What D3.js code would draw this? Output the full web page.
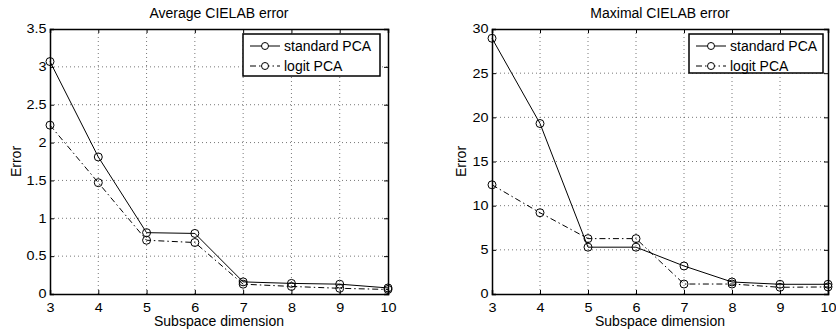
<!DOCTYPE html>
<html>
<head>
<meta charset="utf-8">
<script src="https://cdn.jsdelivr.net/npm/d3@7"></script>
<style>
  body { margin: 0; background: #fff; }
  svg { display: block; font-family: "Liberation Sans", Arial, Helvetica, sans-serif; }
</style>
</head>
<body>
<svg id="chart" width="836" height="332"></svg>
<script>
// Subspace dimensions on the x axis
const dims = [3, 4, 5, 6, 7, 8, 9, 10];

// Average CIELAB error
const avgStandard = [3.07, 1.81, 0.81, 0.80, 0.16, 0.14, 0.13, 0.08];
const avgLogit    = [2.23, 1.47, 0.71, 0.68, 0.13, 0.10, 0.075, 0.06];
const avgTicks    = [0, 0.5, 1, 1.5, 2, 2.5, 3, 3.5];

// Maximal CIELAB error
const maxStandard = [28.95, 19.3, 5.3, 5.3, 3.17, 1.36, 1.1, 1.1];
const maxLogit    = [12.36, 9.2, 6.27, 6.27, 1.13, 1.13, 0.76, 0.8];
const maxTicks    = [0, 5, 10, 15, 20, 25, 30];

const seriesNames = ["standard PCA", "logit PCA"];

const FONT = "'Liberation Sans', Arial, Helvetica, sans-serif";
const svg = d3.select("#chart");

function panel(opt) {
  const { left, right, top, bottom, title, std, logit, yMax, yTicks, legend } = opt;
  const x = d3.scaleLinear().domain([3, 10]).range([left, right]);
  const y = d3.scaleLinear().domain([0, yMax]).range([bottom, top]);
  const g = svg.append("g");

  // dotted grid
  g.append("g").selectAll("line").data(dims.slice(1, -1)).join("line")
    .attr("x1", d => x(d)).attr("x2", d => x(d))
    .attr("y1", top).attr("y2", bottom)
    .attr("stroke", "#555").attr("stroke-width", 0.8).attr("stroke-dasharray", "1,3");
  g.append("g").selectAll("line").data(yTicks.slice(1, -1)).join("line")
    .attr("x1", left).attr("x2", right)
    .attr("y1", d => y(d)).attr("y2", d => y(d))
    .attr("stroke", "#555").attr("stroke-width", 0.8).attr("stroke-dasharray", "1,3");

  // axes with inward ticks; tick numerals are drawn slightly wide
  const xAxis = d3.axisBottom(x).tickValues(dims).tickSize(-4).tickPadding(9).tickFormat(d3.format("d"));
  const yAxis = d3.axisLeft(y).tickValues(yTicks).tickSize(-4).tickPadding(3).tickFormat(d => d3.format("")(d));
  const xg = g.append("g").attr("transform", `translate(0,${bottom})`).call(xAxis);
  const yg = g.append("g").attr("transform", `translate(${left},0)`).call(yAxis);
  const xt = g.append("g").attr("transform", `translate(0,${top})`).call(d3.axisTop(x).tickValues(dims).tickSize(-4).tickFormat(""));
  const yr = g.append("g").attr("transform", `translate(${right},0)`).call(d3.axisRight(y).tickValues(yTicks).tickSize(-4).tickFormat(""));
  [xg, yg, xt, yr].forEach(a => {
    a.attr("font-size", 12).attr("font-family", FONT);
    a.select(".domain").attr("stroke", "#000").attr("stroke-width", 1.5);
    a.selectAll(".tick line").attr("stroke", "#000");
    a.selectAll(".tick text").style("font-size", "12px").attr("fill", "#000")
      .attr("transform", "scale(1.2,1)");
  });

  // lines
  const line = d3.line().x((d, i) => x(dims[i])).y(d => y(d));
  g.append("path").datum(std).attr("d", line)
    .attr("fill", "none").attr("stroke", "#000").attr("stroke-width", 1);
  g.append("path").datum(logit).attr("d", line)
    .attr("fill", "none").attr("stroke", "#000").attr("stroke-width", 1)
    .attr("stroke-dasharray", "6,3,1.5,3");

  // markers
  [std, logit].forEach(s => {
    g.append("g").selectAll("circle").data(s).join("circle")
      .attr("cx", (d, i) => x(dims[i])).attr("cy", d => y(d)).attr("r", 4)
      .attr("fill", "none").attr("stroke", "#000").attr("stroke-width", 1);
  });

  // title and axis labels
  g.append("text").attr("x", (left + right) / 2).attr("y", 18).attr("text-anchor", "middle")
    .style("font-size", "14px").text(title);
  g.append("text").attr("x", (left + right) / 2).attr("y", 326).attr("text-anchor", "middle")
    .style("font-size", "14px").text("Subspace dimension");
  g.append("text").attr("transform", `translate(${opt.ylabelX},${(top + bottom) / 2}) rotate(-90)`)
    .attr("text-anchor", "middle").style("font-size", "14px").text("Error");

  // legend
  const lg = g.append("g");
  lg.append("rect").attr("x", legend.x).attr("y", legend.y).attr("width", legend.w).attr("height", legend.h)
    .attr("fill", "#fff").attr("stroke", "#000").attr("stroke-width", 1.5);
  seriesNames.forEach((name, i) => {
    const ly = legend.y + 12 + i * 20;
    const lx = legend.x + 7;
    lg.append("line").attr("x1", lx).attr("x2", lx + 30).attr("y1", ly).attr("y2", ly)
      .attr("stroke", "#000").attr("stroke-width", 1)
      .attr("stroke-dasharray", i === 1 ? "6,3,1.5,3" : null);
    lg.append("circle").attr("cx", lx + 15).attr("cy", ly).attr("r", 3.5)
      .attr("fill", "#fff").attr("stroke", "#000");
    lg.append("text").attr("x", lx + 34).attr("y", ly + 5).style("font-size", "14px").text(name);
  });
}

panel({
  left: 50, right: 388, top: 29, bottom: 294,
  title: "Average CIELAB error", std: avgStandard, logit: avgLogit,
  yMax: 3.5, yTicks: avgTicks, ylabelX: 21,
  legend: { x: 243, y: 34, w: 137, h: 42 }
});
panel({
  left: 492, right: 828, top: 29, bottom: 294,
  title: "Maximal CIELAB error", std: maxStandard, logit: maxLogit,
  yMax: 30, yTicks: maxTicks, ylabelX: 466,
  legend: { x: 689, y: 34, w: 134, h: 39 }
});
</script>
</body>
</html>
